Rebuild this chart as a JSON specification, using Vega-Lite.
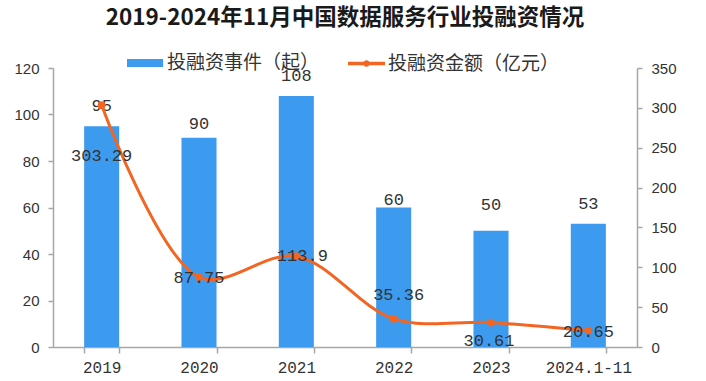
{
  "$schema": "https://vega.github.io/schema/vega-lite/v6.json",
  "width": 584,
  "height": 279,
  "autosize": {"type": "none"},
  "padding": {"left": 53, "top": 68, "right": 69, "bottom": 34},
  "background": "white",
  "title": {
    "text": "2019-2024年11月中国数据服务行业投融资情况",
    "font": "Noto Sans CJK SC",
    "fontSize": 22.5,
    "fontWeight": "bold",
    "color": "#1a1a1a",
    "anchor": "middle",
    "offset": 16
  },
  "config": {"view": {"stroke": null}},
  "data": {
    "values": [
      {"year": "2019", "events": 95, "amount": 303.29},
      {"year": "2020", "events": 90, "amount": 87.75},
      {"year": "2021", "events": 108, "amount": 113.9},
      {"year": "2022", "events": 60, "amount": 35.36},
      {"year": "2023", "events": 50, "amount": 30.61},
      {"year": "2024.1-11", "events": 53, "amount": 20.65}
    ]
  },
  "encoding": {
    "x": {
      "field": "year",
      "type": "nominal",
      "sort": null,
      "scale": {"paddingInner": 0.64, "paddingOuter": 0.32},
      "axis": {
        "title": null,
        "labelAngle": 0,
        "labelFont": "Liberation Mono",
        "labelFontSize": 16,
        "labelColor": "#333333",
        "labelPadding": 6,
        "domainColor": "#a6a6a6",
        "domainWidth": 1.5,
        "tickColor": "#a6a6a6",
        "tickWidth": 1.5,
        "tickSize": 6,
        "tickBand": "extent"
      }
    }
  },
  "layer": [
    {
      "encoding": {
        "y": {
          "field": "events",
          "type": "quantitative",
          "scale": {"domain": [0, 120], "nice": false},
          "axis": {
            "orient": "left",
            "title": null,
            "grid": false,
            "values": [0, 20, 40, 60, 80, 100, 120],
            "labelFont": "Liberation Sans",
            "labelFontSize": 15,
            "labelColor": "#333333",
            "labelPadding": 9,
            "domainColor": "#a6a6a6",
            "domainWidth": 1.5,
            "tickColor": "#a6a6a6",
            "tickWidth": 1.5,
            "tickSize": 5
          }
        }
      },
      "layer": [
        {
          "mark": {"type": "bar"},
          "encoding": {
            "fill": {
              "datum": "投融资事件（起）",
              "scale": {"range": ["#3d9bef"]},
              "legend": {
                "orient": "none",
                "legendX": 74,
                "legendY": -23,
                "title": null,
                "symbolType": "M-1,-0.22H1V0.22H-1Z",
                "symbolSize": 1296,
                "symbolStrokeWidth": 0,
                "labelFont": "Noto Sans CJK SC",
                "labelFontSize": 19,
                "labelLimit": 300,
                "labelColor": "#333333",
                "labelOffset": 4
              }
            }
          }
        },
        {
          "transform": [{"filter": "datum.year == '2019' || datum.year == '2021' || datum.year == '2024.1-11'"}],
          "mark": {"type": "text", "font": "Liberation Mono", "fontSize": 17, "color": "#333333", "baseline": "middle", "dy": -20},
          "encoding": {"text": {"field": "events"}}
        },
        {
          "transform": [{"filter": "datum.year == '2020'"}],
          "mark": {"type": "text", "font": "Liberation Mono", "fontSize": 17, "color": "#333333", "baseline": "middle", "dy": -14},
          "encoding": {"text": {"field": "events"}}
        },
        {
          "transform": [{"filter": "datum.year == '2022'"}],
          "mark": {"type": "text", "font": "Liberation Mono", "fontSize": 17, "color": "#333333", "baseline": "middle", "dy": -8},
          "encoding": {"text": {"field": "events"}}
        },
        {
          "transform": [{"filter": "datum.year == '2023'"}],
          "mark": {"type": "text", "font": "Liberation Mono", "fontSize": 17, "color": "#333333", "baseline": "middle", "dy": -26},
          "encoding": {"text": {"field": "events"}}
        }
      ]
    },
    {
      "encoding": {
        "y": {
          "field": "amount",
          "type": "quantitative",
          "scale": {"domain": [0, 350], "nice": false},
          "axis": {
            "orient": "right",
            "title": null,
            "grid": false,
            "values": [0, 50, 100, 150, 200, 250, 300, 350],
            "labelFont": "Liberation Sans",
            "labelFontSize": 15,
            "labelColor": "#333333",
            "labelPadding": 9,
            "domainColor": "#a6a6a6",
            "domainWidth": 1.5,
            "tickColor": "#a6a6a6",
            "tickWidth": 1.5,
            "tickSize": 5
          }
        }
      },
      "layer": [
        {
          "mark": {"type": "line", "interpolate": "catmull-rom", "strokeWidth": 3},
          "encoding": {
            "stroke": {
              "datum": "投融资金额（亿元）",
              "scale": {"range": ["#f26522"]},
              "legend": {
                "orient": "none",
                "legendX": 295,
                "legendY": -23,
                "title": null,
                "symbolType": "M-1,-0.09H1V0.09H-1Z M-0.18,0A0.18,0.18 0 1,1 0.18,0A0.18,0.18 0 1,1 -0.18,0Z",
                "symbolSize": 1369,
                "symbolFillColor": "#f26522",
                "symbolStrokeWidth": 0,
                "labelFont": "Noto Sans CJK SC",
                "labelFontSize": 19,
                "labelLimit": 300,
                "labelColor": "#333333",
                "labelOffset": 3,
                "encode": {"symbols": {"update": {"fill": {"value": "#f26522"}, "strokeWidth": {"value": 0}}}}
              }
            }
          }
        },
        {
          "mark": {"type": "point", "filled": true, "size": 60, "color": "#f26522", "opacity": 1}
        },
        {
          "transform": [{"filter": "datum.year == '2020' || datum.year == '2024.1-11'"}],
          "mark": {"type": "text", "font": "Liberation Mono", "fontSize": 17, "color": "#333333", "baseline": "middle", "dy": 1},
          "encoding": {"text": {"field": "amount"}}
        },
        {
          "transform": [{"filter": "datum.year == '2019'"}],
          "mark": {"type": "text", "font": "Liberation Mono", "fontSize": 17, "color": "#333333", "baseline": "middle", "dy": 51},
          "encoding": {"text": {"field": "amount"}}
        },
        {
          "transform": [{"filter": "datum.year == '2021'"}],
          "mark": {"type": "text", "font": "Liberation Mono", "fontSize": 17, "color": "#333333", "baseline": "middle", "dx": 6},
          "encoding": {"text": {"field": "amount"}}
        },
        {
          "transform": [{"filter": "datum.year == '2022'"}],
          "mark": {"type": "text", "font": "Liberation Mono", "fontSize": 17, "color": "#333333", "baseline": "middle", "dx": 5, "dy": -24},
          "encoding": {"text": {"field": "amount"}}
        },
        {
          "transform": [{"filter": "datum.year == '2023'"}],
          "mark": {"type": "text", "font": "Liberation Mono", "fontSize": 17, "color": "#333333", "baseline": "middle", "dx": -2, "dy": 18},
          "encoding": {"text": {"field": "amount"}}
        }
      ]
    }
  ],
  "resolve": {"scale": {"y": "independent"}}
}
